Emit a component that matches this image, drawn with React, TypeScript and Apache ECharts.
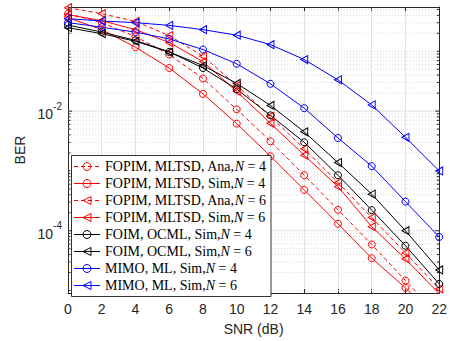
import React, { useEffect, useRef } from 'react';
import * as echarts from 'echarts';

// SNR (dB)
const snr = [0, 2, 4, 6, 8, 10, 12, 14, 16, 18, 20, 22];

// BER values
const fopimAnaN4 = [0.425, 0.301, 0.176, 0.0881, 0.0351, 0.0107, 0.00313, 8.47e-4, 2.24e-4, 5.89e-5, 1.47e-5, 3.8e-6];
const fopimSimN4 = [0.365, 0.23, 0.117, 0.0525, 0.0194, 0.00617, 0.00176, 4.82e-4, 1.31e-4, 3.47e-5, 1.11e-5, 2.9e-6];
const fopimAnaN6 = [0.535, 0.425, 0.316, 0.183, 0.0826, 0.0268, 0.00817, 0.00234, 6.41e-4, 1.66e-4, 4.25e-5, 1.07e-5];
const fopimSimN6 = [0.409, 0.325, 0.23, 0.14, 0.0673, 0.0213, 0.00624, 0.00183, 5.46e-4, 1.17e-4, 3.37e-5, 8.8e-6];
const foimN4 = [0.274, 0.21, 0.152, 0.0977, 0.0525, 0.0233, 0.00847, 0.00301, 8.47e-4, 2.21e-4, 5.62e-5, 1.29e-5];
const foimN6 = [0.248, 0.197, 0.147, 0.097, 0.0578, 0.029, 0.01245, 0.0045, 0.00138, 4.09e-4, 1.0e-4, 2.21e-5];
const mimoN4 = [0.301, 0.253, 0.209, 0.161, 0.107, 0.0617, 0.0286, 0.0112, 0.00355, 0.0012, 3.07e-4, 7.85e-5];
const mimoN6 = [0.351, 0.321, 0.301, 0.271, 0.23, 0.186, 0.129, 0.0728, 0.0333, 0.0127, 0.00365, 0.001];

const seriesNames = [
  'FOPIM, MLTSD, Ana,N=4',
  'FOPIM, MLTSD, Sim,N=4',
  'FOPIM, MLTSD, Ana,N=6',
  'FOPIM, MLTSD, Sim,N=6',
  'FOIM, OCML, Sim,N=4',
  'FOIM, OCML, Sim,N=6',
  'MIMO, ML, Sim,N=4',
  'MIMO, ML, Sim,N=6',
];
const seriesColors = ['#ff0000', '#ff0000', '#ff0000', '#ff0000', '#000000', '#000000', '#0000ff', '#0000ff'];

// axis range (BER, log scale)
const berMin = 9.1e-6;
const berMax = 0.55;
const labelledDecades = [-2, -4];

const TXT = '#262626';

export default function App() {
  const ref = useRef<HTMLDivElement>(null);
  useEffect(() => {
    const chart = echarts.init(ref.current!, null, { renderer: 'svg' });
    const yMin = Math.log10(berMin);
    const yMax = Math.log10(berMax);

    // log grid values (decades & minor)
    const gridVals: number[][] = [];
    for (let d = -6; d <= 0; d++) {
      for (let k = 1; k <= 9; k++) {
        const v = d + Math.log10(k);
        if (v > yMin + 1e-6 && v < yMax - 1e-6) {
          gridVals.push([0, v, k === 1 && labelledDecades.includes(d) ? 1 : 0]);
        }
      }
    }

    const mk = (name: string, vals: number[], color: string, dashed: boolean, tri: boolean) => ({
      type: 'line',
      name,
      data: snr.map((x, i) => [x, Math.log10(vals[i])]),
      symbol: tri ? 'triangle' : 'circle',
      symbolSize: tri ? [8, 7] : 7,
      symbolRotate: tri ? 90 : 0,
      showAllSymbol: true,
      clip: true,
      lineStyle: { color, width: 1, type: dashed ? [4, 3] : 'solid' },
      itemStyle: { color: 'rgba(0,0,0,0)', borderColor: color, borderWidth: 1 },
      emphasis: { disabled: true },
      z: 3,
    });

    const option: any = {
      animation: false,
      backgroundColor: '#fff',
      grid: { left: 68, right: 10, top: 7, bottom: 47, containLabel: false },
      xAxis: [
        {
          type: 'value',
          min: 0,
          max: 22,
          interval: 2,
          name: 'SNR (dB)',
          nameLocation: 'middle',
          nameGap: 29,
          nameTextStyle: { fontSize: 14, fontFamily: 'Liberation Sans', color: TXT },
          axisLine: { show: true, onZero: false, lineStyle: { color: TXT, width: 1 } },
          axisTick: { show: true, inside: true, length: 4, lineStyle: { color: TXT } },
          axisLabel: { fontSize: 14, fontFamily: 'Liberation Sans', color: TXT, margin: 9 },
          splitLine: { show: true, lineStyle: { color: '#e2e2e2', width: 1 } },
        },
        {
          type: 'value',
          position: 'top',
          min: 0,
          max: 22,
          interval: 2,
          axisLine: { show: true, onZero: false, lineStyle: { color: TXT, width: 1 } },
          axisTick: { show: true, inside: true, length: 4, lineStyle: { color: TXT } },
          axisLabel: { show: false },
          splitLine: { show: false },
        },
      ],
      yAxis: [
        {
          type: 'value',
          min: yMin,
          max: yMax,
          splitNumber: 5,
          name: 'BER',
          nameLocation: 'middle',
          nameGap: 38,
          nameRotate: 90,
          nameTextStyle: { fontSize: 14, fontFamily: 'Liberation Sans', color: TXT },
          axisLine: { show: true, onZero: false, lineStyle: { color: TXT, width: 1 } },
          axisTick: { show: false },
          splitLine: { show: false },
          axisLabel: {
            margin: 6,
            formatter: (v: number) => {
              const r = Math.round(v);
              if (Math.abs(v - r) < 1e-6 && labelledDecades.includes(r)) return `{b|10}{s|${r}}`;
              return '';
            },
            rich: {
              b: { fontSize: 14, fontFamily: 'Liberation Sans', color: TXT, lineHeight: 20, verticalAlign: 'bottom' },
              s: { fontSize: 10, fontFamily: 'Liberation Sans', color: TXT, lineHeight: 20, verticalAlign: 'top' },
            },
          },
        },
        {
          type: 'value',
          position: 'right',
          min: yMin,
          max: yMax,
          axisLine: { show: true, onZero: false, lineStyle: { color: TXT, width: 1 } },
          axisTick: { show: false },
          axisLabel: { show: false },
          splitLine: { show: false },
        },
      ],
      legend: {
        data: seriesNames.map((n, i) => ({
          name: n,
          itemStyle: { color: 'rgba(0,0,0,0)', borderColor: seriesColors[i], borderWidth: 1 },
          lineStyle: { width: 1 },
        })),
        orient: 'vertical',
        left: 71.5,
        top: 155.5,
        backgroundColor: '#fff',
        borderColor: '#000',
        borderWidth: 0.8,
        borderRadius: 0,
        padding: [4, 5, 4, 2],
        itemWidth: 26,
        itemHeight: 10,
        itemGap: 3,
        itemTextGap: 3,
        selectedMode: false,
        itemStyle: { color: 'rgba(0,0,0,0)', borderWidth: 1 },
        lineStyle: { width: 1 },
        textStyle: {
          fontFamily: 'Liberation Serif',
          fontSize: 14,
          color: '#000',
          lineHeight: 13.4,
          rich: {
            i: { fontFamily: 'Liberation Serif', fontSize: 14, fontStyle: 'italic', color: '#000', lineHeight: 13.4 },
          },
        },
        formatter: (name: string) => name.replace(/N=(\d)/, '{i|N} = $1'),
      },
      series: [
        {
          type: 'custom',
          name: 'grid',
          silent: true,
          z: 1,
          clip: false,
          data: gridVals,
          renderItem: (params: any, api: any) => {
            const v = api.value(1);
            const major = api.value(2) === 1;
            const p0 = api.coord([0, v]);
            const p1 = api.coord([22, v]);
            const tl = major ? 4 : 2.5;
            return {
              type: 'group',
              children: [
                {
                  type: 'line',
                  shape: { x1: p0[0], y1: p0[1], x2: p1[0], y2: p1[1] },
                  style: major
                    ? { stroke: '#e2e2e2', lineWidth: 1 }
                    : { stroke: '#cfcfcf', lineWidth: 0.8, lineDash: [1, 2] },
                },
                { type: 'line', shape: { x1: p0[0], y1: p0[1], x2: p0[0] + tl, y2: p0[1] }, style: { stroke: TXT, lineWidth: 1 } },
                { type: 'line', shape: { x1: p1[0] - tl, y1: p1[1], x2: p1[0], y2: p1[1] }, style: { stroke: TXT, lineWidth: 1 } },
              ],
            };
          },
        },
        mk(seriesNames[0], fopimAnaN4, seriesColors[0], true, false),
        mk(seriesNames[1], fopimSimN4, seriesColors[1], false, false),
        mk(seriesNames[2], fopimAnaN6, seriesColors[2], true, true),
        mk(seriesNames[3], fopimSimN6, seriesColors[3], false, true),
        mk(seriesNames[4], foimN4, seriesColors[4], false, false),
        mk(seriesNames[5], foimN6, seriesColors[5], false, true),
        mk(seriesNames[6], mimoN4, seriesColors[6], false, false),
        mk(seriesNames[7], mimoN6, seriesColors[7], false, true),
      ],
    };
    chart.setOption(option);
    return () => chart.dispose();
  }, []);
  return <div ref={ref} style={{ position: 'absolute', left: 0, top: 0, width: 450, height: 341 }} />;
}
